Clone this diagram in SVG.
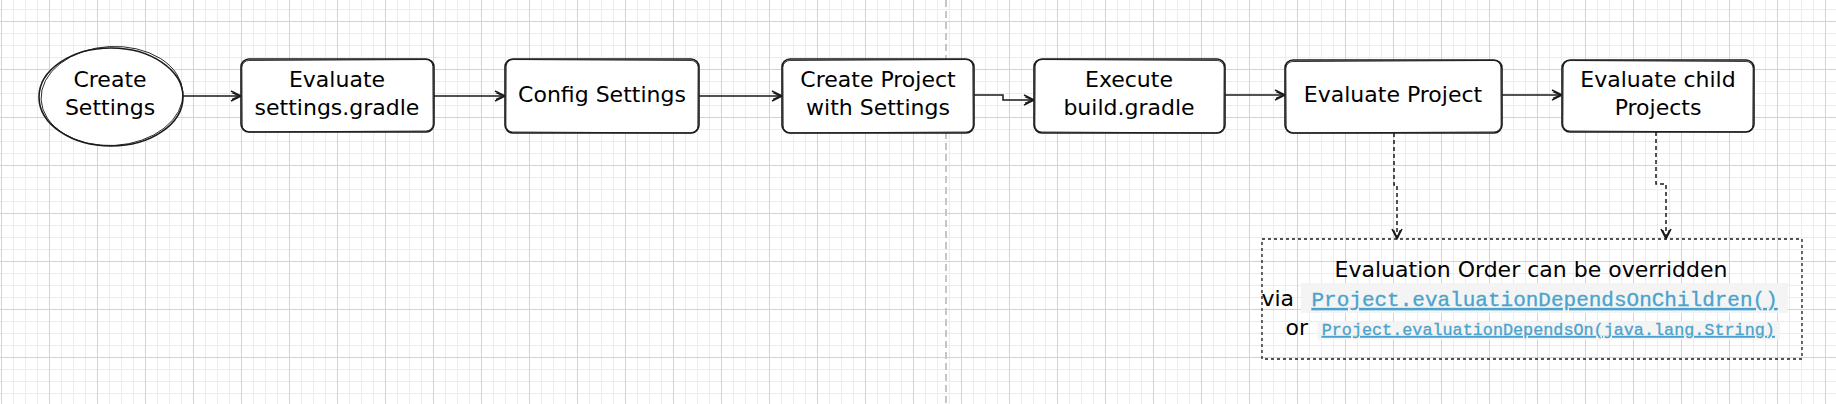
<svg xmlns="http://www.w3.org/2000/svg" width="1836" height="404" viewBox="0 0 1836 404">
<defs>
<pattern id="grid" patternUnits="userSpaceOnUse" x="1" y="21" width="48" height="48">
<rect x="12" y="0" width="1" height="48" fill="#ececec"/>
<rect x="24" y="0" width="1" height="48" fill="#ececec"/>
<rect x="36" y="0" width="1" height="48" fill="#ececec"/>
<rect x="0" y="12" width="48" height="1" fill="#ececec"/>
<rect x="0" y="24" width="48" height="1" fill="#ececec"/>
<rect x="0" y="36" width="48" height="1" fill="#ececec"/>
<rect x="0" y="0" width="1" height="48" fill="#d3d3d3"/>
<rect x="0" y="0" width="48" height="1" fill="#d3d3d3"/>
</pattern>
<marker id="arr" markerUnits="userSpaceOnUse" markerWidth="14" markerHeight="14" refX="11" refY="5.5" orient="auto" overflow="visible">
<path d="M1,0.5 L11,5.5 L1,10.5 M2,2 L10,5.5 L2,9" fill="none" stroke="#1a1a1a" stroke-width="1.5" stroke-linejoin="round"/>
</marker>
</defs>
<style>
.node{fill:#ffffff;stroke:#1a1a1a;stroke-width:1.6}
.sk{fill:none;stroke:#1a1a1a;stroke-width:0.9}
.lbl{font-family:"DejaVu Sans",sans-serif;font-size:22px;fill:#000000;text-anchor:middle}
.edge{fill:none;stroke:#1a1a1a;stroke-width:1.5;marker-end:url(#arr)}
.dedge{fill:none;stroke:#1a1a1a;stroke-width:1.5;stroke-dasharray:4 3;marker-end:url(#arr)}
.code{font-family:"Liberation Mono",monospace;fill:#4aa3cc;text-decoration:underline;stroke:#4aa3cc;stroke-width:0.3}
.codebg{fill:#f4f4f4}
</style>
<rect x="0" y="0" width="1836" height="404" fill="#ffffff"/>
<rect x="0" y="0" width="1836" height="404" fill="url(#grid)"/>
<line x1="946" y1="0" x2="946" y2="404" stroke="#c6c6c6" stroke-width="2" stroke-dasharray="7 4"/>

<g id="connectors">
<path class="edge" d="M183,96 L241,96"/>
<path class="edge" d="M434,96 L505,96"/>
<path class="edge" d="M699,96 L782,96"/>
<path class="edge" d="M974,95 L1003,95 L1003,100 L1034,100"/>
<path class="edge" d="M1225,95 L1285,95"/>
<path class="edge" d="M1502,95 L1562,95"/>
<path class="dedge" d="M1394,133 L1394,185 L1397,185 L1397,239"/>
<path class="dedge" d="M1656,132 L1656,184 L1666,184 L1666,239"/>
</g>

<g id="create-settings">
<ellipse class="node" cx="111" cy="97" rx="72" ry="49"/>
<ellipse class="sk" cx="112" cy="96" rx="71" ry="49.5" transform="rotate(-3 112 96)"/>
<text class="lbl" x="110" y="87">Create</text>
<text class="lbl" x="110" y="115">Settings</text>
</g>

<g id="evaluate-settings">
<rect class="node" x="241" y="59" width="193" height="73" rx="8"/>
<rect class="sk" x="242" y="60" width="191" height="71.5" rx="7" transform="rotate(-0.3 337 96)"/>
<text class="lbl" x="337" y="87">Evaluate</text>
<text class="lbl" x="337" y="115">settings.gradle</text>
</g>

<g id="config-settings">
<rect class="node" x="505" y="59" width="194" height="74" rx="8"/>
<rect class="sk" x="506" y="60" width="192" height="72.5" rx="7" transform="rotate(0.3 602 96)"/>
<text class="lbl" x="602" y="102">Config Settings</text>
</g>

<g id="create-project">
<rect class="node" x="782" y="59" width="192" height="74" rx="8"/>
<rect class="sk" x="783" y="60" width="190" height="72.5" rx="7" transform="rotate(-0.3 878 96)"/>
<text class="lbl" x="878" y="87">Create Project</text>
<text class="lbl" x="878" y="115">with Settings</text>
</g>

<g id="execute-build">
<rect class="node" x="1034" y="59" width="191" height="74" rx="8"/>
<rect class="sk" x="1035" y="60" width="189" height="72.5" rx="7" transform="rotate(0.3 1129 96)"/>
<text class="lbl" x="1129" y="87">Execute</text>
<text class="lbl" x="1129" y="115">build.gradle</text>
</g>

<g id="evaluate-project">
<rect class="node" x="1285" y="60" width="217" height="73" rx="8"/>
<rect class="sk" x="1286" y="61" width="215" height="71.5" rx="7" transform="rotate(-0.3 1393 96)"/>
<text class="lbl" x="1393" y="102">Evaluate Project</text>
</g>

<g id="evaluate-child">
<rect class="node" x="1562" y="60" width="192" height="72" rx="8"/>
<rect class="sk" x="1563" y="61" width="190" height="70.5" rx="7" transform="rotate(0.3 1658 96)"/>
<text class="lbl" x="1658" y="87">Evaluate child</text>
<text class="lbl" x="1658" y="115">Projects</text>
</g>

<g id="note">
<rect x="1262" y="239" width="540" height="120" fill="none" stroke="#1a1a1a" stroke-width="1.3" stroke-dasharray="3 3"/>
<text class="lbl" x="1531" y="277">Evaluation Order can be overridden</text>
<text class="lbl" x="1294" y="306" style="text-anchor:end">via</text>
<rect class="codebg" x="1301" y="283" width="487" height="30"/>
<text class="code" x="1311.5" y="306" font-size="21">Project.evaluationDependsOnChildren()</text>
<text class="lbl" x="1308" y="335" style="text-anchor:end">or</text>
<rect class="codebg" x="1317.5" y="321.5" width="462.5" height="18"/>
<text class="code" x="1321.7" y="335" font-size="16.8">Project.evaluationDependsOn(java.lang.String)</text>
</g>
</svg>
